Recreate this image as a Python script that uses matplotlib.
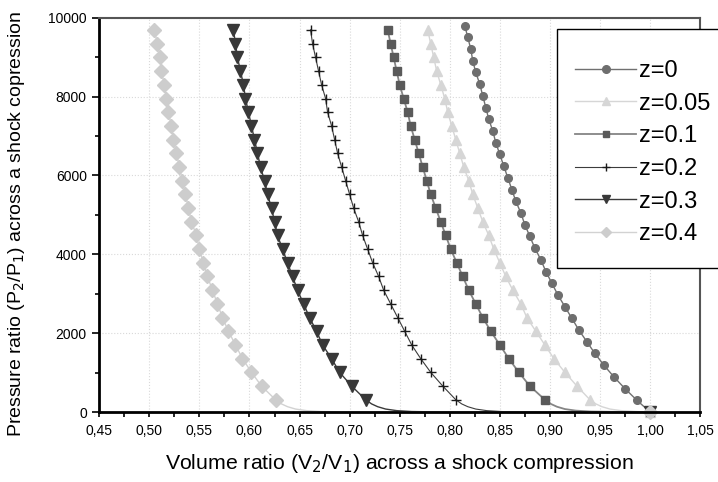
import matplotlib
matplotlib.use("Agg")
import matplotlib.pyplot as plt
from matplotlib.patches import Rectangle
from matplotlib.ticker import MultipleLocator, FuncFormatter

plt.rcParams['font.family'] = ['Liberation Sans', 'DejaVu Sans']

# pressure levels (P2/P1) where the points were computed, top to bottom
p_levels = [9690, 9339, 8992, 8645, 8298, 7950, 7603, 7256, 6909, 6562,
            6214, 5867, 5520, 5173, 4826, 4478, 4131, 3784, 3437, 3090,
            2742, 2395, 2048, 1701, 1354, 1006, 659, 312]
p_levels_z0 = [9800, 9503, 9206, 8909, 8612, 8315, 8018, 7721, 7424, 7127,
               6830, 6533, 6236, 5939, 5642, 5345, 5048, 4751, 4454, 4157,
               3860, 3563, 3266, 2969, 2672, 2375, 2078, 1781, 1484, 1187,
               890, 593, 296]

# volume ratios V2/V1 for each ionisation fraction z
v_z0 = [0.815, 0.818, 0.821, 0.823, 0.826, 0.830, 0.833, 0.836, 0.839, 0.843,
        0.846, 0.850, 0.854, 0.858, 0.862, 0.866, 0.871, 0.875, 0.880, 0.885,
        0.891, 0.896, 0.902, 0.908, 0.915, 0.922, 0.929, 0.937, 0.945, 0.954,
        0.964, 0.975, 0.987]
v_z005 = [0.778, 0.781, 0.784, 0.787, 0.791, 0.795, 0.798, 0.802, 0.806, 0.810,
          0.814, 0.819, 0.823, 0.828, 0.833, 0.839, 0.844, 0.850, 0.856, 0.863,
          0.871, 0.877, 0.886, 0.895, 0.904, 0.915, 0.927, 0.940]
v_z01 = [0.738, 0.741, 0.744, 0.747, 0.750, 0.754, 0.758, 0.761, 0.765, 0.769,
         0.773, 0.777, 0.781, 0.786, 0.791, 0.796, 0.801, 0.807, 0.813, 0.819,
         0.826, 0.833, 0.841, 0.850, 0.859, 0.869, 0.880, 0.895]
v_z02 = [0.661, 0.663, 0.666, 0.669, 0.672, 0.676, 0.678, 0.682, 0.685, 0.688,
         0.692, 0.696, 0.700, 0.704, 0.709, 0.713, 0.718, 0.723, 0.729, 0.734,
         0.741, 0.748, 0.755, 0.762, 0.771, 0.781, 0.793, 0.806]
v_z03 = [0.584, 0.586, 0.588, 0.591, 0.594, 0.596, 0.599, 0.602, 0.605, 0.608,
         0.611, 0.615, 0.618, 0.622, 0.625, 0.628, 0.633, 0.638, 0.643, 0.648,
         0.654, 0.660, 0.667, 0.673, 0.682, 0.690, 0.702, 0.716]
v_z04 = [0.505, 0.508, 0.511, 0.512, 0.515, 0.517, 0.519, 0.522, 0.524, 0.527,
         0.530, 0.533, 0.536, 0.539, 0.542, 0.547, 0.550, 0.554, 0.558, 0.563,
         0.568, 0.573, 0.579, 0.586, 0.593, 0.602, 0.612, 0.626]

# low-pressure run-out of each curve down to the initial state V2/V1 = 1
tail_p = [205, 135, 75, 35, 12, 2]
tail_v_z005 = [0.946, 0.952, 0.960, 0.971, 0.986, 0.995]
tail_v_z01 = [0.901, 0.907, 0.915, 0.926, 0.941, 0.969]
tail_v_z02 = [0.812, 0.818, 0.826, 0.837, 0.852, 0.880]
tail_v_z03 = [0.722, 0.728, 0.736, 0.747, 0.762, 0.790]
tail_v_z04 = [0.632, 0.638, 0.646, 0.657, 0.672, 0.700]
v_end, p_end = 1.0, 1

labels = ['z=0', 'z=0.05', 'z=0.1', 'z=0.2', 'z=0.3', 'z=0.4']

W, H = 718, 482
fig = plt.figure(figsize=(W / 100, H / 100), dpi=100)
ax = fig.add_axes([0.1383, 0.1452, 0.8367, 0.8181])

ax.grid(True, which='major', color='#d9d9d9', linestyle=':', linewidth=0.8)
ax.set_axisbelow(True)

# z = 0
ax.plot(v_z0 + [v_end], p_levels_z0 + [p_end], color='#707070', lw=1.0,
        marker='o', ms=5.5, mfc='#6e6e6e', mec='#6e6e6e',
        label=labels[0], clip_on=False)

# the rest share the same pressure grid
series = [
    (v_z005, tail_v_z005, '#d6d6d6', '#d6d6d6', '^', 7.5, 1.0, labels[1]),
    (v_z01, tail_v_z01, '#858585', '#5a5a5a', 's', 5.5, 1.3, labels[2]),
    (v_z02, tail_v_z02, '#3c3c3c', '#1a1a1a', '+', 7.5, 0.8, labels[3]),
    (v_z03, tail_v_z03, '#3a3a3a', '#383838', 'v', 8.0, 1.0, labels[4]),
    (v_z04, tail_v_z04, '#d2d2d2', '#cdcdcd', 'D', 7.0, 1.0, labels[5]),
]
for v, tv, lc, mc, mk, ms, lw, lab in series:
    # curve without markers through the tail
    ax.plot(v + tv + [v_end], p_levels + tail_p + [p_end], color=lc, lw=lw,
            clip_on=False)
    # computed points
    ax.plot(v + [v_end], p_levels + [p_end], linestyle='none', marker=mk,
            ms=ms, mfc=mc, mec=mc, mew=1.0, clip_on=False)
    # legend entry
    ax.plot([], [], color=lc, lw=lw, marker=mk, ms=ms * 0.75, mfc=mc, mec=mc,
            label=lab)

ax.set_xlim(0.45, 1.05)
ax.set_ylim(0, 10000)
ax.xaxis.set_major_locator(MultipleLocator(0.05))
ax.xaxis.set_minor_locator(MultipleLocator(0.025))
ax.yaxis.set_major_locator(MultipleLocator(2000))
ax.yaxis.set_minor_locator(MultipleLocator(1000))
ax.xaxis.set_major_formatter(FuncFormatter(lambda v, pos: f"{v:.2f}".replace('.', ',')))
ax.yaxis.set_major_formatter(FuncFormatter(lambda v, pos: f"{v:.0f}"))

ax.tick_params(axis='x', which='both', direction='out', length=3.5, width=1.2,
               labelsize=10, pad=5)
ax.tick_params(axis='y', which='major', direction='out', length=5, width=1.2,
               labelsize=10, pad=4)
ax.tick_params(axis='y', which='minor', direction='out', length=3, width=1.2)

for side in ['left', 'bottom']:
    ax.spines[side].set_linewidth(2.0)
    ax.spines[side].set_color('black')
for side in ['top', 'right']:
    ax.spines[side].set_linewidth(1.5)
    ax.spines[side].set_color('#555555')

ax.set_xlabel('Volume ratio (V$_2$/V$_1$) across a shock compression',
              fontsize=15.3, labelpad=10)
ax.set_ylabel('Pressure ratio (P$_2$/P$_1$) across a shock copression',
              fontsize=14)
ax.yaxis.set_label_coords(-0.121, 0.477)

# legend box, running off the right edge of the figure
box = Rectangle((557 / W, 1 - 268 / H), 300 / W, 239 / H,
                transform=fig.transFigure, facecolor='white',
                edgecolor='black', linewidth=1.0, zorder=5)
fig.patches.append(box)

handles, labs = ax.get_legend_handles_labels()
leg = fig.legend(handles, labs, loc='upper left',
                 bbox_to_anchor=(575 / W, 1 - 60 / H), fontsize=17,
                 frameon=False, handlelength=2.6, handletextpad=0.13,
                 labelspacing=0.45, borderpad=0, borderaxespad=0)
leg.set_zorder(6)

fig.savefig('out.png', dpi=100)
